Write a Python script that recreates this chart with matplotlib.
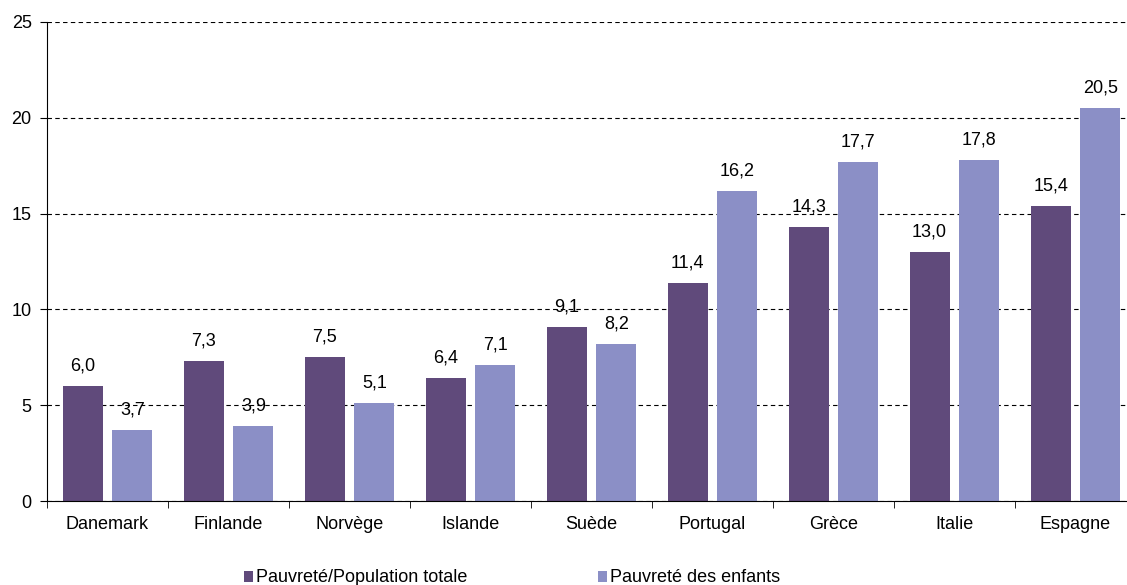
import numpy as np
import matplotlib.pyplot as plt

plt.rcParams['font.family'] = ['Liberation Sans', 'DejaVu Sans']

pays = ['Danemark', 'Finlande', 'Norvège', 'Islande', 'Suède',
        'Portugal', 'Grèce', 'Italie', 'Espagne']
pop_totale = [6.0, 7.3, 7.5, 6.4, 9.1, 11.4, 14.3, 13.0, 15.4]
enfants = [3.7, 3.9, 5.1, 7.1, 8.2, 16.2, 17.7, 17.8, 20.5]
noms = ['Pauvreté/Population totale', 'Pauvreté des enfants']

c1 = '#604a7b'
c2 = '#8b8fc6'

fig = plt.figure(figsize=(11.27, 5.85), dpi=100)
# the plot area runs past the right edge of the picture, as in the original
ax = fig.add_axes([47 / 1127, 1 - 501 / 585, 1089 / 1127, 479 / 585])

x = np.arange(len(pays))
w = 0.33
b1 = ax.bar(x - 0.206, pop_totale, w, color=c1, label=noms[0], zorder=2)
b2 = ax.bar(x + 0.206, enfants, w, color=c2, label=noms[1], zorder=2)

for bars, vals in [(b1, pop_totale), (b2, enfants)]:
    for b, v in zip(bars, vals):
        ax.text(b.get_x() + b.get_width() / 2, v + 0.6, f'{v:.1f}'.replace('.', ','),
                ha='center', va='bottom', fontsize=13, zorder=3)

ax.set_xlim(-0.5, len(pays) - 0.5)
ax.set_ylim(0, 25)
ax.set_yticks([0, 5, 10, 15, 20, 25])
ax.yaxis.grid(True, linestyle=(0, (4, 3)), color='black', linewidth=0.8, zorder=0)
ax.set_axisbelow(True)

ax.set_xticks(x)
ax.set_xticklabels(pays)
ax.set_xticks(np.arange(len(pays) + 1) - 0.5, minor=True)
ax.tick_params(axis='x', which='major', length=0, pad=11, labelsize=13)
ax.tick_params(axis='x', which='minor', length=5, direction='out')
ax.tick_params(axis='y', length=5, direction='out', labelsize=13, pad=6)

for s in ['top', 'right']:
    ax.spines[s].set_visible(False)

for h, nom, xl in [(b1, noms[0], 244), (b2, noms[1], 598)]:
    fig.legend(handles=[h], labels=[nom], loc='center left',
               bbox_to_anchor=(xl / 1127, 1 - 578 / 585), frameon=False,
               fontsize=13, borderpad=0, borderaxespad=0,
               handlelength=0.5, handleheight=0.55, handletextpad=0.15)

plt.savefig('out.png')
